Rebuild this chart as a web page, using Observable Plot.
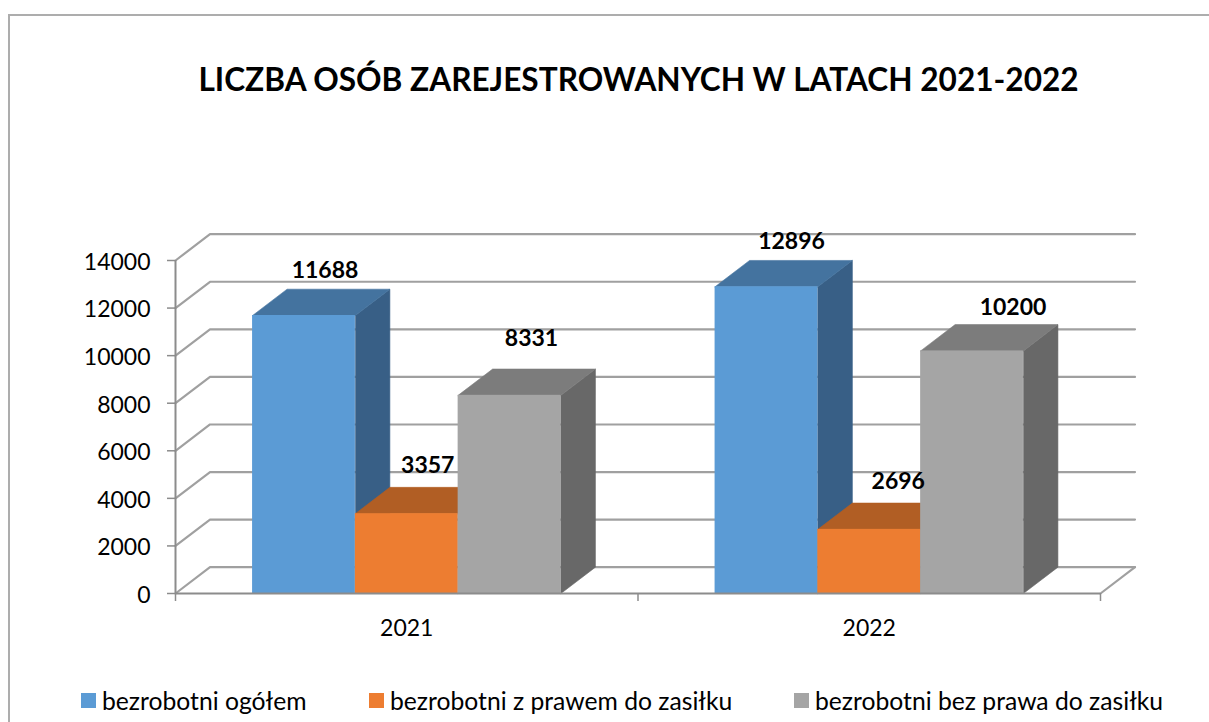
<!DOCTYPE html>
<html lang="pl">
<head>
<meta charset="utf-8">
<script src="https://cdn.jsdelivr.net/npm/d3@7"></script>
<script src="https://cdn.jsdelivr.net/npm/@observablehq/plot@0.6"></script>
<style>
  html, body { margin: 0; padding: 0; background: #fff; overflow: hidden; width: 1209px; height: 722px; }
  body { position: relative; font-family: Lato, sans-serif; color: #000; }
  #frame { position: absolute; left: 8px; top: 14px; width: 1300px; height: 760px; border: 2px solid #adadad; box-sizing: border-box; pointer-events: none; }
  #title { height: 200px; box-sizing: border-box; padding-top: 57px; padding-left: 68px; text-align: center; font-size: 31.6px; font-weight: 700; line-height: 44px; white-space: nowrap; }
  #chart svg { display: block; }
  #legend { position: absolute; left: 0; top: 680px; width: 1209px; height: 40px; }
  .item { position: absolute; top: 0; height: 40px; display: flex; align-items: center; font-size: 24.7px; white-space: nowrap; }
  .swatch { width: 15px; height: 15px; margin-right: 6px; flex: none; }
</style>
</head>
<body>
<div id="frame"></div>
<div id="title"></div>
<div id="chart"></div>
<div id="legend"></div>
<script>
// Data
const titleText = "LICZBA OSÓB ZAREJESTROWANYCH W LATACH 2021-2022";
const years = ["2021", "2022"];
const seriesNames = ["bezrobotni ogółem", "bezrobotni z prawem do zasiłku", "bezrobotni bez prawa do zasiłku"];
const total = [11688, 12896];
const withBenefit = [3357, 2696];
const withoutBenefit = [8331, 10200];
const yTicks = [0, 2000, 4000, 6000, 8000, 10000, 12000, 14000];

// Styles and layout
const seriesValues = [total, withBenefit, withoutBenefit];
const frontColors = ["#5b9bd5", "#ed7d31", "#a5a5a5"];
const topColors = ["#44739f", "#b15e24", "#7c7c7c"];
const sideColors = ["#385f86", "#8e4b1d", "#686868"];
const legendLefts = [81, 369, 794];
const svgHeight = 440;
const depthX = 0.0746;   // receding depth, in category units
const depthY = 1106;     // receding rise, in value units
const barWidth = 1 / 4.5;
const gap = 0.75 * barWidth;
// label nudges in pixels: [dx, dy] from the centre of each bar's top front edge
const labelNudges = [
  [[21, -45], [21, -48], [22, -57]],
  [[25, -45], [29, -48], [41, -43]]
];

const poly = (pts, color) => Plot.line(pts, {
  x: "x", y: "y", fill: color, stroke: color, strokeWidth: 0.6, curve: "linear-closed"
});

const marks = [];

// walls: one receding line plus back-wall line per tick
for (const v of yTicks) {
  marks.push(Plot.line(
    [{x: 0, y: v}, {x: depthX, y: v + depthY}, {x: 2 + depthX, y: v + depthY}],
    {x: "x", y: "y", stroke: "#a0a0a0", strokeWidth: 2.2}
  ));
}
// floor right edge
marks.push(Plot.line(
  [{x: 2, y: 0}, {x: 2 + depthX, y: depthY}],
  {x: "x", y: "y", stroke: "#a0a0a0", strokeWidth: 2.2}
));

// bars, painted left to right
years.forEach((yr, c) => {
  seriesValues.forEach((vals, s) => {
    const v = vals[c];
    const x1 = c + gap + s * barWidth;
    const x2 = x1 + barWidth;
    marks.push(poly([
      {x: x2, y: 0}, {x: x2 + depthX, y: depthY}, {x: x2 + depthX, y: v + depthY}, {x: x2, y: v}
    ], sideColors[s]));
    marks.push(poly([
      {x: x1, y: v}, {x: x1 + depthX, y: v + depthY}, {x: x2 + depthX, y: v + depthY}, {x: x2, y: v}
    ], topColors[s]));
    marks.push(Plot.rect([{x1, x2, y1: 0, y2: v}], {
      x1: "x1", x2: "x2", y1: "y1", y2: "y2", fill: frontColors[s]
    }));
  });
});

// axis lines
marks.push(Plot.ruleX([0], {y1: 0, y2: 14000, stroke: "#8c8c8c", strokeWidth: 2}));
marks.push(Plot.ruleY([0], {x1: 0, x2: 2, stroke: "#8c8c8c", strokeWidth: 2}));

// axes
marks.push(Plot.axisY({
  ticks: yTicks, tickSize: 0, tickPadding: 25,
  tickFormat: d => String(d), label: null, fontSize: 23, color: "#000", dy: 2
}));
marks.push(Plot.axisY({
  ticks: yTicks, tickSize: 8, stroke: "#8c8c8c", strokeWidth: 1.5, tickFormat: () => "", label: null
}));
marks.push(Plot.axisX({
  ticks: [0, 1, 2], tickSize: 8, stroke: "#8c8c8c", strokeWidth: 1.5, tickFormat: () => "", label: null
}));
marks.push(Plot.axisX({
  ticks: [0.5, 1.5], tickSize: 0, tickPadding: 26, tickFormat: d => years[Math.floor(d)],
  label: null, fontSize: 23, color: "#000"
}));

// value labels
years.forEach((yr, c) => {
  seriesValues.forEach((vals, s) => {
    const [dx, dy] = labelNudges[c][s];
    marks.push(Plot.text([{x: c + gap + (s + 0.5) * barWidth, y: vals[c]}], {
      x: "x", y: "y", text: d => String(d.y), dx, dy,
      fontSize: 23, fontWeight: 700, fill: "#000", textAnchor: "middle", lineAnchor: "middle"
    }));
  });
});

const chart = Plot.plot({
  width: 1209,
  height: svgHeight,
  marginLeft: 175,
  marginRight: 109,
  marginTop: 60,
  marginBottom: 47,
  style: {fontFamily: "Lato, sans-serif", background: "transparent", overflow: "visible"},
  x: {type: "linear", domain: [0, 2], axis: null},
  y: {type: "linear", domain: [0, 14000], axis: null},
  marks
});
document.getElementById("chart").appendChild(chart);
document.getElementById("title").textContent = titleText;

const legend = document.getElementById("legend");
seriesNames.forEach((name, i) => {
  const item = document.createElement("div");
  item.className = "item";
  item.style.left = legendLefts[i] + "px";
  const sw = document.createElement("span");
  sw.className = "swatch";
  sw.style.background = frontColors[i];
  const label = document.createElement("span");
  label.textContent = name;
  item.append(sw, label);
  legend.appendChild(item);
});
</script>
</body>
</html>
